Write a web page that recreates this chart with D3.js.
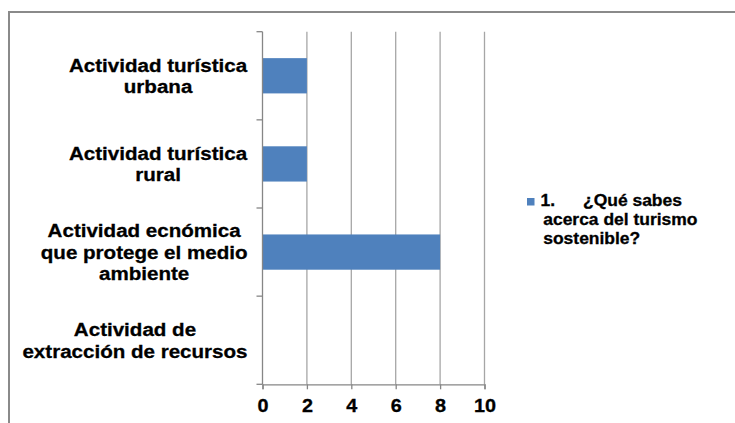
<!DOCTYPE html>
<html>
<head>
<meta charset="utf-8">
<script src="https://cdn.jsdelivr.net/npm/d3@7"></script>
<style>
  body { margin: 0; background: #fff; }
  text { font-family: "Liberation Sans", Arial, sans-serif; font-weight: bold; fill: #000; stroke: #000; stroke-width: 0.3px; }
</style>
</head>
<body>
<div id="chart"></div>
<script>
// data, top to bottom as in the picture
var categories = [
    "Actividad turística urbana",
    "Actividad turística rural",
    "Actividad ecnómica que protege el medio ambiente",
    "Actividad de extracción de recursos"
];
var categoryLines = [
    ["Actividad turística", "urbana"],
    ["Actividad turística", "rural"],
    ["Actividad ecnómica", "que protege el medio", "ambiente"],
    ["Actividad de", "extracción de recursos"]
];
var values = [2, 2, 8, 0];
var xTicks = [0, 2, 4, 6, 8, 10];
var seriesName = ["1.", "¿Qué sabes", "acerca del turismo", "sostenible?"];

var width = 735, height = 423;
var stretch = 1.1; // the original text is drawn a little wide
var svg = d3.select("#chart").append("svg")
    .attr("width", width).attr("height", height)
    .style("background-color", "white");

//outer chart frame (runs off the right and bottom edges)
svg.append("rect")
    .attr("x", 9).attr("y", 12)
    .attr("width", 900).attr("height", 600)
    .attr("fill", "none").attr("stroke", "#8a8a8a").attr("stroke-width", 2);

var x = d3.scaleLinear().domain([0, 10]).range([262.5, 484.5]);
var y = d3.scaleBand().domain(categories).range([31.7, 384.3])
    .paddingInner(0.6).paddingOuter(0.3);

//gridlines
svg.append("g").selectAll("line")
    .data(xTicks.filter(function(d) { return d > 0; }))
    .enter().append("line")
    .attr("x1", function(d) { return x(d); })
    .attr("x2", function(d) { return x(d); })
    .attr("y1", y.range()[0])
    .attr("y2", y.range()[1])
    .attr("stroke", "#a6a6a6").attr("stroke-width", 1.3);

//bars
svg.append("g").selectAll("rect")
    .data(values)
    .enter().append("rect")
    .attr("x", x(0))
    .attr("y", function(d, i) { return y(categories[i]); })
    .attr("width", function(d) { return x(d) - x(0); })
    .attr("height", y.bandwidth())
    .attr("fill", "#4f81bd");

//x axis
var xAxis = svg.append("g")
    .attr("transform", "translate(0," + y.range()[1] + ")")
    .call(d3.axisBottom(x).tickValues(xTicks).tickSize(5).tickPadding(10));
xAxis.select(".domain").attr("stroke", "#868686").attr("stroke-width", 1.3);
xAxis.selectAll(".tick line").attr("stroke", "#868686").attr("stroke-width", 1.3);
xAxis.selectAll(".tick text")
    .style("font-size", "18px").attr("dy", "0.71em")
    .attr("transform", "scale(" + stretch + ",1)");

//y axis line with category separator ticks
var yAxis = svg.append("g");
var y0 = y.range()[0], y1 = y.range()[1];
yAxis.append("line")
    .attr("x1", x(0)).attr("x2", x(0))
    .attr("y1", y0).attr("y2", y1)
    .attr("stroke", "#868686").attr("stroke-width", 1.3);
yAxis.selectAll("line.sep")
    .data(d3.range(categories.length + 1))
    .enter().append("line")
    .attr("class", "sep")
    .attr("x1", x(0) - 6).attr("x2", x(0))
    .attr("y1", function(i) { return y0 + i * (y1 - y0) / categories.length; })
    .attr("y2", function(i) { return y0 + i * (y1 - y0) / categories.length; })
    .attr("stroke", "#868686").attr("stroke-width", 1.3);

//category labels, each block centred on itself and right aligned to the axis
var lineH = 21.5;
var labels = svg.append("g").selectAll("g")
    .data(categoryLines)
    .enter().append("g");
labels.each(function(lines, i) {
    var g = d3.select(this);
    var cy = y(categories[i]) + y.bandwidth() / 2;
    var inner = g.append("g");
    lines.forEach(function(l, j) {
        inner.append("text")
            .style("font-size", "18.7px")
            .attr("text-anchor", "middle")
            .attr("x", 0)
            .attr("y", cy + (j - (lines.length - 1) / 2) * lineH)
            .attr("dy", "0.35em")
            .text(l);
    });
    var w = inner.node().getBBox().width * stretch;
    inner.attr("transform", "translate(" + (x(0) - 15 - w / 2) + ",0) scale(" + stretch + ",1)");
});

//legend
var legend = svg.append("g").attr("transform", "translate(527,198)");
legend.append("rect").attr("width", 7.5).attr("height", 7.5).attr("fill", "#4f81bd");
var lt = legend.append("g").attr("transform", "scale(1.12,1)");
var legendRows = [
    {t: seriesName[0], x: 12, y: 8},
    {t: seriesName[1], x: 50, y: 8},
    {t: seriesName[2], x: 14.5, y: 27},
    {t: seriesName[3], x: 14.5, y: 46}
];
lt.selectAll("text").data(legendRows).enter().append("text")
    .style("font-size", "15.6px")
    .attr("x", function(d) { return d.x; })
    .attr("y", function(d) { return d.y; })
    .text(function(d) { return d.t; });
</script>
</body>
</html>
